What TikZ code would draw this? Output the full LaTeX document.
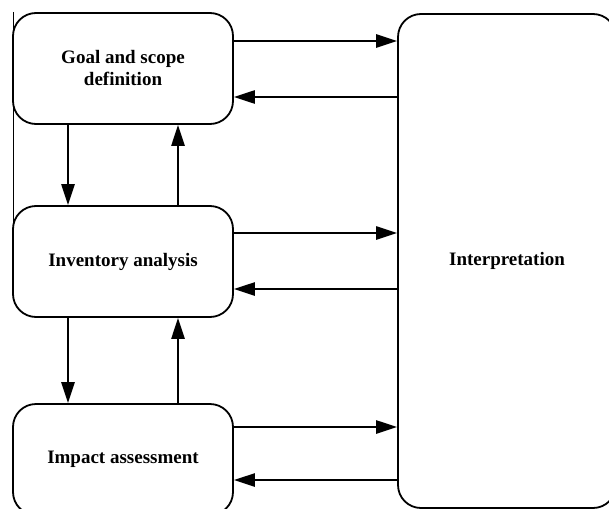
\documentclass[tikz,border=0pt]{standalone}
\usepackage{fontspec}
\setmainfont{Liberation Serif}
\usetikzlibrary{arrows.meta}

\tikzset{
  stage/.style={draw, line width=1.8pt, rounded corners=23pt, minimum width=220pt, minimum height=111pt,
    align=center, font=\fontsize{19}{22}\selectfont\bfseries},
  flow/.style={line width=2.6pt, -{Triangle[length=21pt,width=13pt]}}
}

\begin{document}
\begin{tikzpicture}[x=1pt,y=-1pt]
  \useasboundingbox[fill=white] (0,0) rectangle (609,508);
  \clip (0,0) rectangle (609,508);

  \node[stage] (goal) at (123,68.5) {Goal and scope\\definition};
  \node[stage] (inv) at (123,261.5) {Inventory analysis};
  \node[stage] (impact) at (123,459.5) {Impact assessment};
  \node[stage, minimum width=218pt, minimum height=494pt] (interp) at (507,261) {Interpretation};

  \draw[line width=0.8pt] (13,12)--(13,263);

  \draw[flow] ([yshift=27.5pt]goal.east) -- ([yshift=27.5pt]goal.east -| interp.west);
  \draw[flow] ([yshift=-28.5pt]goal.east -| interp.west) -- ([yshift=-28.5pt]goal.east);
  \draw[flow] ([yshift=28.5pt]inv.east) -- ([yshift=28.5pt]inv.east -| interp.west);
  \draw[flow] ([yshift=-27.5pt]inv.east -| interp.west) -- ([yshift=-27.5pt]inv.east);
  \draw[flow] ([yshift=32.5pt]impact.east) -- ([yshift=32.5pt]impact.east -| interp.west);
  \draw[flow] ([yshift=-20.5pt]impact.east -| interp.west) -- ([yshift=-20.5pt]impact.east);

  \draw[flow] ([xshift=-55pt]goal.south) -- ([xshift=-55pt]inv.north);
  \draw[flow] ([xshift=55pt]inv.north) -- ([xshift=55pt]goal.south);
  \draw[flow] ([xshift=-55pt]inv.south) -- ([xshift=-55pt]impact.north);
  \draw[flow] ([xshift=55pt]impact.north) -- ([xshift=55pt]inv.south);
\end{tikzpicture}
\end{document}
